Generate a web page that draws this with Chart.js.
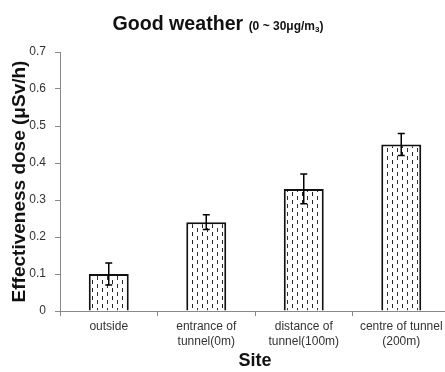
<!DOCTYPE html>
<html>
<head>
<meta charset="utf-8">
<script src="https://cdn.jsdelivr.net/npm/chart.js@4/dist/chart.umd.min.js"></script>
<style>
  html, body { margin: 0; padding: 0; overflow: hidden; background: #fff; }
  #wrap { position: relative; width: 452px; height: 372px; }
  #title { position: absolute; left: 0; top: 12px; width: 436px; text-align: center;
    font-family: "Liberation Sans", Arial, sans-serif; font-weight: bold; font-size: 19.6px; line-height: 22px; color: #111; white-space: nowrap; }
  #title .sub { font-size: 12px; }
  #title sub { font-size: 8px; vertical-align: -2px; }
</style>
</head>
<body>
<div id="wrap">
  <canvas id="c" width="452" height="372"></canvas>
  <div id="title">Good weather <span class="sub">(0 ~ 30μg/m<sub>3</sub>)</span></div>
</div>
<script>
const categories = [["outside"], ["entrance of", "tunnel(0m)"], ["distance of", "tunnel(100m)"], ["centre of tunnel", "(200m)"]];
const doseValues = [0.10, 0.24, 0.33, 0.45];
const doseErrors = [0.03, 0.02, 0.04, 0.03];
const yTickLabels = ["0", "0.1", "0.2", "0.3", "0.4", "0.5", "0.6", "0.7"];
const xTitle = "Site";
const yTitle = "Effectiveness dose (μSv/h)";

function makePattern() {
  const p = document.createElement('canvas');
  p.width = 10; p.height = 8;
  const g = p.getContext('2d');
  g.fillStyle = '#fff'; g.fillRect(0, 0, 10, 8);
  g.fillStyle = '#222';
  g.fillRect(2, 0, 1, 4);
  g.fillStyle = '#333';
  g.fillRect(7, 4, 1, 4);
  return document.getElementById('c').getContext('2d').createPattern(p, 'repeat');
}

const errorBars = {
  id: 'errorBars',
  afterDatasetsDraw(chart) {
    const ctx = chart.ctx;
    const meta = chart.getDatasetMeta(0);
    const y = chart.scales.y;
    ctx.save();
    ctx.strokeStyle = '#000';
    ctx.lineWidth = 1.5;
    meta.data.forEach((bar, i) => {
      const v = doseValues[i], e = doseErrors[i];
      const yt = y.getPixelForValue(v + e), yb = y.getPixelForValue(v - e);
      const x = bar.x;
      ctx.beginPath();
      ctx.moveTo(x, yt); ctx.lineTo(x, yb);
      ctx.moveTo(x - 3.5, yt); ctx.lineTo(x + 3.5, yt);
      ctx.moveTo(x - 3.5, yb); ctx.lineTo(x + 3.5, yb);
      ctx.stroke();
    });
    ctx.restore();
  }
};

const font = "'Liberation Sans', Arial, sans-serif";
new Chart(document.getElementById('c'), {
  type: 'bar',
  data: {
    labels: categories,
    datasets: [{
      data: doseValues,
      backgroundColor: makePattern(),
      borderColor: '#111',
      borderWidth: 2,
      categoryPercentage: 1,
      barPercentage: 0.41
    }]
  },
  options: {
    responsive: false,
    animation: false,
    events: [],
    layout: { padding: { top: 52, right: 2, left: 0, bottom: 0 } },
    plugins: { legend: { display: false }, tooltip: { enabled: false }, title: { display: false } },
    scales: {
      x: {
        grid: { display: true, drawOnChartArea: false, offset: true, tickLength: 5, color: '#898989', lineWidth: 1 },
        border: { color: '#898989', width: 1 },
        ticks: { color: '#333', font: { family: font, size: 12, lineHeight: 1.25 }, padding: 3, maxRotation: 0, autoSkip: false },
        title: { display: true, text: xTitle, color: '#111', font: { family: font, size: 18, weight: 'bold' }, padding: { top: 0, bottom: 0 } },
        afterFit(s) { s.height = 61; }
      },
      y: {
        min: 0, max: 0.7,
        grid: { display: true, drawOnChartArea: false, tickLength: 5, color: '#898989', lineWidth: 1 },
        border: { color: '#898989', width: 1 },
        ticks: { stepSize: 0.1, color: '#333', font: { family: font, size: 12 }, padding: 9,
          callback: (v) => yTickLabels[Math.round(v * 10)] },
        title: { display: true, text: yTitle, color: '#111', font: { family: font, size: 19, weight: 'bold' }, padding: { top: 8, bottom: 0 } },
        afterFit(s) { s.width = 60; }
      }
    }
  },
  plugins: [errorBars]
});
</script>
</body>
</html>
